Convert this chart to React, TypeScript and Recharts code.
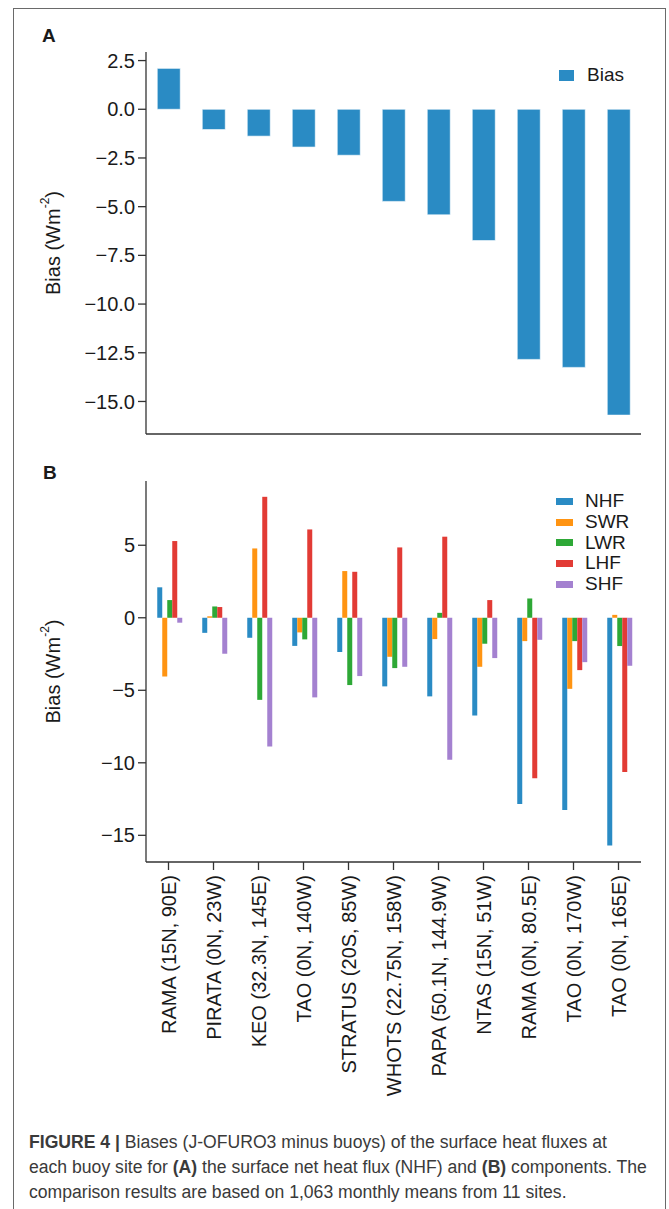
import { BarChart, Bar, XAxis, YAxis, Legend } from "recharts";

const SITES = [
  "RAMA (15N, 90E)",
  "PIRATA (0N, 23W)",
  "KEO (32.3N, 145E)",
  "TAO (0N, 140W)",
  "STRATUS (20S, 85W)",
  "WHOTS (22.75N, 158W)",
  "PAPA (50.1N, 144.9W)",
  "NTAS (15N, 51W)",
  "RAMA (0N, 80.5E)",
  "TAO (0N, 170W)",
  "TAO (0N, 165E)",
];

// net heat flux bias, also panel A
const NHF = [2.1, -1.04, -1.38, -1.94, -2.36, -4.73, -5.42, -6.74, -12.84, -13.25, -15.7];
const SWR = [-4.05, 0.1, 4.78, -1.01, 3.22, -2.69, -1.47, -3.38, -1.61, -4.9, 0.2];
const LWR = [1.22, 0.78, -5.66, -1.49, -4.64, -3.47, 0.34, -1.79, 1.33, -1.61, -1.95];
const LHF = [5.29, 0.74, 8.34, 6.09, 3.17, 4.85, 5.59, 1.22, -11.06, -3.61, -10.64];
const SHF = [-0.34, -2.48, -8.87, -5.49, -4.02, -3.38, -9.79, -2.78, -1.52, -3.06, -3.31];

const TICKS_A = [-15, -12.5, -10, -7.5, -5, -2.5, 0, 2.5];
const TICKS_B = [-15, -10, -5, 0, 5];

const SERIES = [
  { key: "NHF", color: "#2a8bc4" },
  { key: "SWR", color: "#ff9412" },
  { key: "LWR", color: "#2ea836" },
  { key: "LHF", color: "#e23b35" },
  { key: "SHF", color: "#a481d0" },
];

const dataA = SITES.map((site, i) => ({ site, Bias: NHF[i] }));
const dataB = SITES.map((site, i) => ({
  site,
  NHF: NHF[i],
  SWR: SWR[i],
  LWR: LWR[i],
  LHF: LHF[i],
  SHF: SHF[i],
}));

const FONT = '"Liberation Sans", Arial, Helvetica, sans-serif';
const AXIS = "#333";
const TEXT = "#1a1a1a";

const fmtA = (v: number) => (v < 0 ? "\u2212" : "") + Math.abs(v).toFixed(1);
const fmtB = (v: number) => (v < 0 ? "\u2212" : "") + Math.abs(v).toFixed(0);

function yLabel(props: any) {
  const vb = props.viewBox || {};
  const cy = vb.y + vb.height / 2;
  const x = 53;
  return (
    <text
      x={x}
      y={cy}
      transform={`rotate(-90, ${x}, ${cy})`}
      textAnchor="middle"
      dominantBaseline="central"
      fontSize={20}
      fill={TEXT}
      fontFamily={FONT}
    >
      Bias (Wm
      <tspan dy={-8} fontSize={12}>
        -2
      </tspan>
      <tspan dy={8}>)</tspan>
    </text>
  );
}

function SiteTick({ x, y, payload }: any) {
  return (
    <text
      x={x}
      y={y}
      transform={`rotate(-90, ${x}, ${y})`}
      textAnchor="end"
      dy="0.36em"
      fontSize={20}
      fill={TEXT}
      fontFamily={FONT}
    >
      {payload.value}
    </text>
  );
}

function LegendA() {
  return (
    <div style={{ display: "flex", alignItems: "center", fontFamily: FONT, fontSize: 19, color: TEXT }}>
      <span style={{ width: 15, height: 11, background: SERIES[0].color, marginRight: 13 }} />
      Bias
    </div>
  );
}

function LegendB() {
  return (
    <div style={{ fontFamily: FONT, fontSize: 19, color: TEXT }}>
      {SERIES.map((s) => (
        <div key={s.key} style={{ display: "flex", alignItems: "center", height: 20.7 }}>
          <span style={{ width: 17, height: 7, background: s.color, marginRight: 12 }} />
          {s.key}
        </div>
      ))}
    </div>
  );
}

const line = { stroke: AXIS, strokeWidth: 1.3 };
const tickText = { fontSize: 20, fill: TEXT, fontFamily: FONT };

export default function App() {
  return (
    <div style={{ position: "absolute", left: 0, top: 0, width: 669, height: 1209, overflow: "hidden", background: "#fff" }}>
      <div style={{ position: "absolute", left: 13, top: 8, width: 651, height: 1240, border: "1.5px solid #6a6a6a" }} />

      <div style={{ position: "absolute", left: 42, top: 25, fontFamily: FONT, fontWeight: "bold", fontSize: 19, color: TEXT }}>A</div>
      <div style={{ position: "absolute", left: 43, top: 462, fontFamily: FONT, fontWeight: "bold", fontSize: 19, color: TEXT }}>B</div>

      <div style={{ position: "absolute", left: 0, top: 0 }}>
        <BarChart width={669} height={450} data={dataA} margin={{ top: 52, right: 28, bottom: 0, left: 86 }} barCategoryGap="25%" barGap={0}>
          <XAxis dataKey="site" interval={0} height={16} tick={false} tickSize={8} tickLine={line} axisLine={line} />
          <XAxis xAxisId="top" dataKey="site" orientation="top" height={0} tick={false} tickLine={false} axisLine={line} />
          <YAxis
            width={60}
            type="number"
            domain={[-16.67, 2.94]}
            ticks={TICKS_A}
            tickFormatter={fmtA}
            tickSize={8}
            tickMargin={3}
            tick={tickText}
            tickLine={line}
            axisLine={line}
            label={yLabel}
          />
          <YAxis yAxisId="right" orientation="right" width={0} domain={[0, 1]} tick={false} tickLine={false} axisLine={line} />
          <Legend layout="horizontal" verticalAlign="middle" align="center" wrapperStyle={{ top: 64, left: 559, width: 90 }} content={() => <LegendA />} />
          <Bar dataKey="Bias" fill={SERIES[0].color} stroke="#fff" strokeWidth={0.6} isAnimationActive={false} />
        </BarChart>
      </div>

      <div style={{ position: "absolute", left: 0, top: 440 }}>
        <BarChart width={669} height={700} data={dataB} margin={{ top: 41, right: 28, bottom: 0, left: 86 }} barCategoryGap="25%" barGap={0}>
          <XAxis dataKey="site" interval={0} height={278} tick={<SiteTick />} tickSize={8} tickMargin={5} tickLine={line} axisLine={line} />
          <XAxis xAxisId="top" dataKey="site" orientation="top" height={0} tick={false} tickLine={false} axisLine={line} />
          <YAxis
            width={60}
            type="number"
            domain={[-16.84, 9.43]}
            ticks={TICKS_B}
            tickFormatter={fmtB}
            tickSize={8}
            tickMargin={3}
            tick={tickText}
            tickLine={line}
            axisLine={line}
            label={yLabel}
          />
          <YAxis yAxisId="right" orientation="right" width={0} domain={[0, 1]} tick={false} tickLine={false} axisLine={line} />
          <Legend layout="horizontal" verticalAlign="middle" align="center" wrapperStyle={{ top: 51, left: 556, width: 90 }} content={() => <LegendB />} />
          {SERIES.map((s) => (
            <Bar key={s.key} dataKey={s.key} fill={s.color} isAnimationActive={false} />
          ))}
        </BarChart>
      </div>

      <div style={{ position: "absolute", left: 29, top: 1130, fontFamily: FONT, fontSize: 17.6, lineHeight: "25px", color: "#3a3a3a", whiteSpace: "nowrap" }}>
        <div>
          <b>FIGURE 4 |</b> Biases (J-OFURO3 minus buoys) of the surface heat fluxes at
        </div>
        <div>
          each buoy site for <b>(A)</b> the surface net heat flux (NHF) and <b>(B)</b> components. The
        </div>
        <div>comparison results are based on 1,063 monthly means from 11 sites.</div>
      </div>
    </div>
  );
}
